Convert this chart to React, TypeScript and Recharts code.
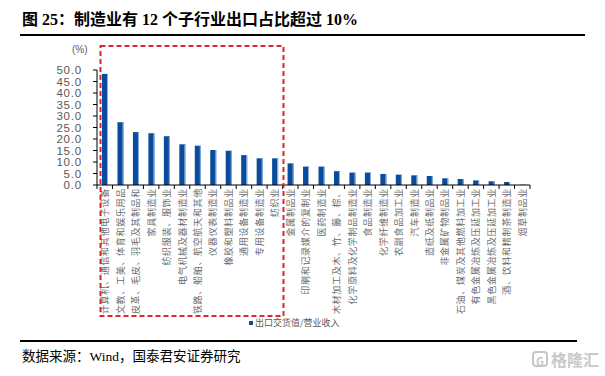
import { BarChart, Bar, XAxis, YAxis } from 'recharts'

// 制造业各子行业：出口交货值/营业收入（%）
const categories = [
  '计算机、通信和其他电子设备',
  '文教、工美、体育和娱乐用品',
  '皮革、毛皮、羽毛及其制品和',
  '家具制造业',
  '纺织服装、服饰业',
  '电气机械及器材制造业',
  '铁路、船舶、航空航天和其他',
  '仪器仪表制造业',
  '橡胶和塑料制品业',
  '通用设备制造业',
  '专用设备制造业',
  '纺织业',
  '金属制品业',
  '印刷和记录媒介的复制业',
  '医药制造业',
  '木材加工及木、竹、藤、棕、',
  '化学原料及化学制品制造业',
  '食品制造业',
  '化学纤维制造业',
  '农副食品加工业',
  '汽车制造业',
  '造纸及纸制品业',
  '非金属矿物制品业',
  '石油、煤炭及其他燃料加工业',
  '有色金属冶炼及压延加工业',
  '黑色金属冶炼及压延加工业',
  '酒、饮料和精制茶制造业',
  '烟草制品业',
]

const exportShare = [
  48.3, 27.3, 23.0, 22.5, 21.2, 17.7, 17.1, 15.2, 14.9, 13.0, 11.6, 11.6,
  9.4, 8.0, 8.0, 6.0, 5.4, 5.4, 4.8, 4.5, 4.2, 3.9, 2.9, 2.6, 2.0, 1.6, 1.3, 0.1,
]

const yTicks = [0, 5, 10, 15, 20, 25, 30, 35, 40, 45, 50]

const seriesName = '出口交货值/营业收入'

const data = categories.map((name, i) => ({ name, value: exportShare[i] }))

const PLOT_LEFT = 97
const PLOT_RIGHT = 530
const BAND = (PLOT_RIGHT - PLOT_LEFT) / categories.length
const BAR_COLOR = '#0A4C9B'

const BarShape = (props: any) => {
  const { x, y, width, height } = props
  if (!height || height <= 0) return null
  return (
    <g>
      <rect x={x} y={y} width={width} height={height} fill={BAR_COLOR} />
      <rect x={x + width - 1} y={y} width={1} height={height} fill="#8DB3E2" />
    </g>
  )
}

const CategoryTick = (props: any) => {
  const { x, y, payload, index } = props
  const left = x - BAND / 2
  const isLast = index === categories.length - 1
  return (
    <g>
      <line x1={left} y1={y} x2={left} y2={y + 4} stroke="#000" />
      {isLast && <line x1={x + BAND / 2} y1={y} x2={x + BAND / 2} y2={y + 4} stroke="#000" />}
      <text
        x={x + 3.5}
        y={y + 3}
        transform={`rotate(-90, ${x + 3.5}, ${y + 3})`}
        textAnchor="end"
        fontSize={9}
        letterSpacing={0.7}
        fill="#6b6b6b"
        fontFamily='"Noto Sans CJK SC", sans-serif'
      >
        {payload.value}
      </text>
    </g>
  )
}

export default function App() {
  return (
    <div
      style={{
        position: 'fixed',
        left: 0,
        top: 0,
        width: 605,
        height: 376,
        background: '#fff',
        overflow: 'hidden',
      }}
    >
      <div
        style={{
          position: 'absolute',
          left: 22,
          top: 6,
          fontSize: 16,
          fontWeight: 'bold',
          fontFamily: '"Liberation Serif", "Noto Sans CJK SC", serif',
          color: '#000',
          whiteSpace: 'nowrap',
        }}
      >
        图 25：制造业有 12 个子行业出口占比超过 10%
      </div>
      <div style={{ position: 'absolute', left: 20, top: 34, width: 565, height: 1.5, background: '#000' }} />

      <div
        style={{
          position: 'absolute',
          left: 72,
          top: 44,
          fontSize: 10,
          color: '#595959',
          fontFamily: '"Liberation Sans", sans-serif',
        }}
      >
        (%)
      </div>

      <div style={{ position: 'absolute', left: 0, top: 0 }}>
        <BarChart
          width={605}
          height={330}
          data={data}
          margin={{ top: 70, right: 605 - PLOT_RIGHT, bottom: 0, left: 0 }}
          barCategoryGap={0}
        >
          <XAxis
            dataKey="name"
            interval={0}
            height={145}
            tickLine={false}
            tickSize={0}
            tickMargin={0}
            axisLine={{ stroke: '#000' }}
            tick={<CategoryTick />}
          />
          <YAxis
            width={PLOT_LEFT}
            domain={[0, 50]}
            ticks={yTicks}
            interval={0}
            tickSize={4}
            tickMargin={11}
            tickLine={{ stroke: '#000' }}
            axisLine={{ stroke: '#000' }}
            tickFormatter={(v: number) => v.toFixed(1)}
            tick={{ fontSize: 11.5, fill: '#595959', fontFamily: '"Liberation Sans", sans-serif', letterSpacing: 0.8 }}
          />
          <Bar
            dataKey="value"
            name={seriesName}
            barSize={6}
            fill={BAR_COLOR}
            shape={<BarShape />}
            isAnimationActive={false}
          />
        </BarChart>
      </div>

      <svg style={{ position: 'absolute', left: 0, top: 0 }} width={605} height={376}>
        <rect
          x={100.5}
          y={46}
          width={183}
          height={270}
          fill="none"
          stroke="#E0262A"
          strokeWidth={2}
          strokeDasharray="5 3"
        />
      </svg>

      <div
        style={{
          position: 'absolute',
          left: 249,
          top: 316,
          display: 'flex',
          alignItems: 'center',
          fontSize: 9,
          color: '#595959',
          fontFamily: '"Noto Sans CJK SC", sans-serif',
          whiteSpace: 'nowrap',
        }}
      >
        <span style={{ display: 'inline-block', width: 4, height: 4, background: BAR_COLOR, marginRight: 2 }} />
        {seriesName}
      </div>

      <div style={{ position: 'absolute', left: 20, top: 340, width: 557, height: 1.5, background: '#000' }} />
      <div
        style={{
          position: 'absolute',
          left: 22,
          top: 345,
          fontSize: 13.5,
          fontFamily: '"Liberation Serif", "Noto Sans CJK SC", serif',
          color: '#000',
          whiteSpace: 'nowrap',
        }}
      >
        数据来源：Wind，国泰君安证券研究
      </div>

      <div
        style={{
          position: 'absolute',
          left: 532,
          top: 347,
          display: 'flex',
          alignItems: 'center',
          color: '#c8c8c8',
          fontFamily: '"Noto Sans CJK SC", sans-serif',
          fontSize: 16,
          fontWeight: 'bold',
          whiteSpace: 'nowrap',
        }}
      >
        <span
          style={{
            display: 'inline-block',
            width: 16,
            height: 16,
            border: '2px solid #c8c8c8',
            borderRadius: 4,
            fontSize: 11,
            lineHeight: '16px',
            textAlign: 'center',
            marginRight: 3,
            boxSizing: 'border-box',
          }}
        >
          G
        </span>
        格隆汇
      </div>
    </div>
  )
}
